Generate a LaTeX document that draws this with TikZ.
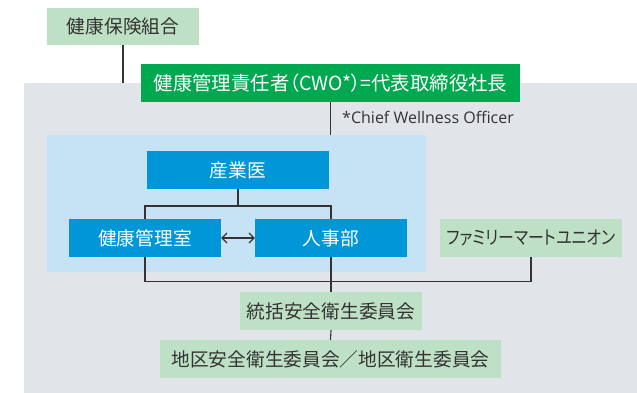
\documentclass[tikz,border=0pt]{standalone}
\usepackage{fontspec}
\usepackage{graphicx}
\setmainfont{Noto Sans CJK JP}
\newfontfamily\palfont[RawFeature=+palt]{Noto Sans CJK JP}
\newfontfamily\notefont{Open Sans}
\usetikzlibrary{arrows.meta}
\definecolor{graybg}{HTML}{E1E5E9}
\definecolor{bluebg}{HTML}{C6E2F5}
\definecolor{boxblue}{HTML}{0096D8}
\definecolor{boxgreen}{HTML}{00A84F}
\definecolor{lightgreen}{HTML}{BEE0C5}
\definecolor{ink}{HTML}{333333}
\tikzset{
  base/.style={rectangle, inner sep=0pt, minimum height=38pt, font=\fontsize{18.7}{21}\selectfont},
  lgbox/.style={base, fill=lightgreen, text=ink},
  bluebox/.style={base, fill=boxblue, text=white},
  greenbox/.style={base, fill=boxgreen, text=white},
  conn/.style={draw=ink, line width=1.1pt},
}
\begin{document}
\begin{tikzpicture}[x=1pt,y=-1pt]
\useasboundingbox (0,0) rectangle (637,393);
\fill[graybg] (24,83) rectangle (637,393);
\node[rectangle, fill=bluebg, inner sep=0pt, minimum width=379pt, minimum height=137pt] (bluearea) at (236.5,203.5) {};

\node[lgbox, minimum width=152pt, minimum height=37pt] (kenpo) at (123,26.5) {健康保険組合};
\node[greenbox, minimum width=379pt, font=\fontsize{19.4}{21}\selectfont] (cwo) at (330.5,83) {\palfont 健康管理責任者（CWO*）=代表取締役社長};
\node[anchor=west, inner sep=0pt, text=ink, font=\notefont\fontsize{16}{18}\selectfont] (cwonote) at (342,117) {*Chief Wellness Officer};

\node[bluebox, minimum width=182pt] (sangyo) at (238,170) {産業医};
\node[bluebox, minimum width=152pt] (kenko) at (145,238) {健康管理室};
\node[bluebox, minimum width=152pt] (jinji) at (331,238) {人事部};
\node[lgbox, minimum width=182pt] (union) at (531,238) {\scalebox{0.85}[1]{\palfont ファミリーマートユニオン}};
\node[lgbox, minimum width=182pt] (tokatsu) at (331,311) {統括安全衛生委員会};
\node[lgbox, minimum width=341pt] (chiku) at (330.5,359) {地区安全衛生委員会／地区衛生委員会};

\coordinate (graytop) at (0,83);
\coordinate (upbus) at (0,206);
\coordinate (lowbus) at (0,281.5);

\draw[conn] (kenpo.south) -- (kenpo.south |- graytop);
\draw[conn] (cwo.south) -- (cwo.south |- bluearea.north);
\draw[conn] (sangyo.south) -- (sangyo.south |- upbus);
\draw[conn] (kenko.north) -- (kenko.north |- upbus) -| (jinji.north);
\draw[conn] (kenko.south) -- (kenko.south |- lowbus) -| (union.south);
\draw[conn] (jinji.south) -- (tokatsu.north);
\draw[conn] (tokatsu.south) -- (chiku.north);
\draw[conn, {Straight Barb[length=5pt,width=10pt]}-{Straight Barb[length=5pt,width=10pt]}] (kenko.east) -- (jinji.west);
\end{tikzpicture}
\end{document}
